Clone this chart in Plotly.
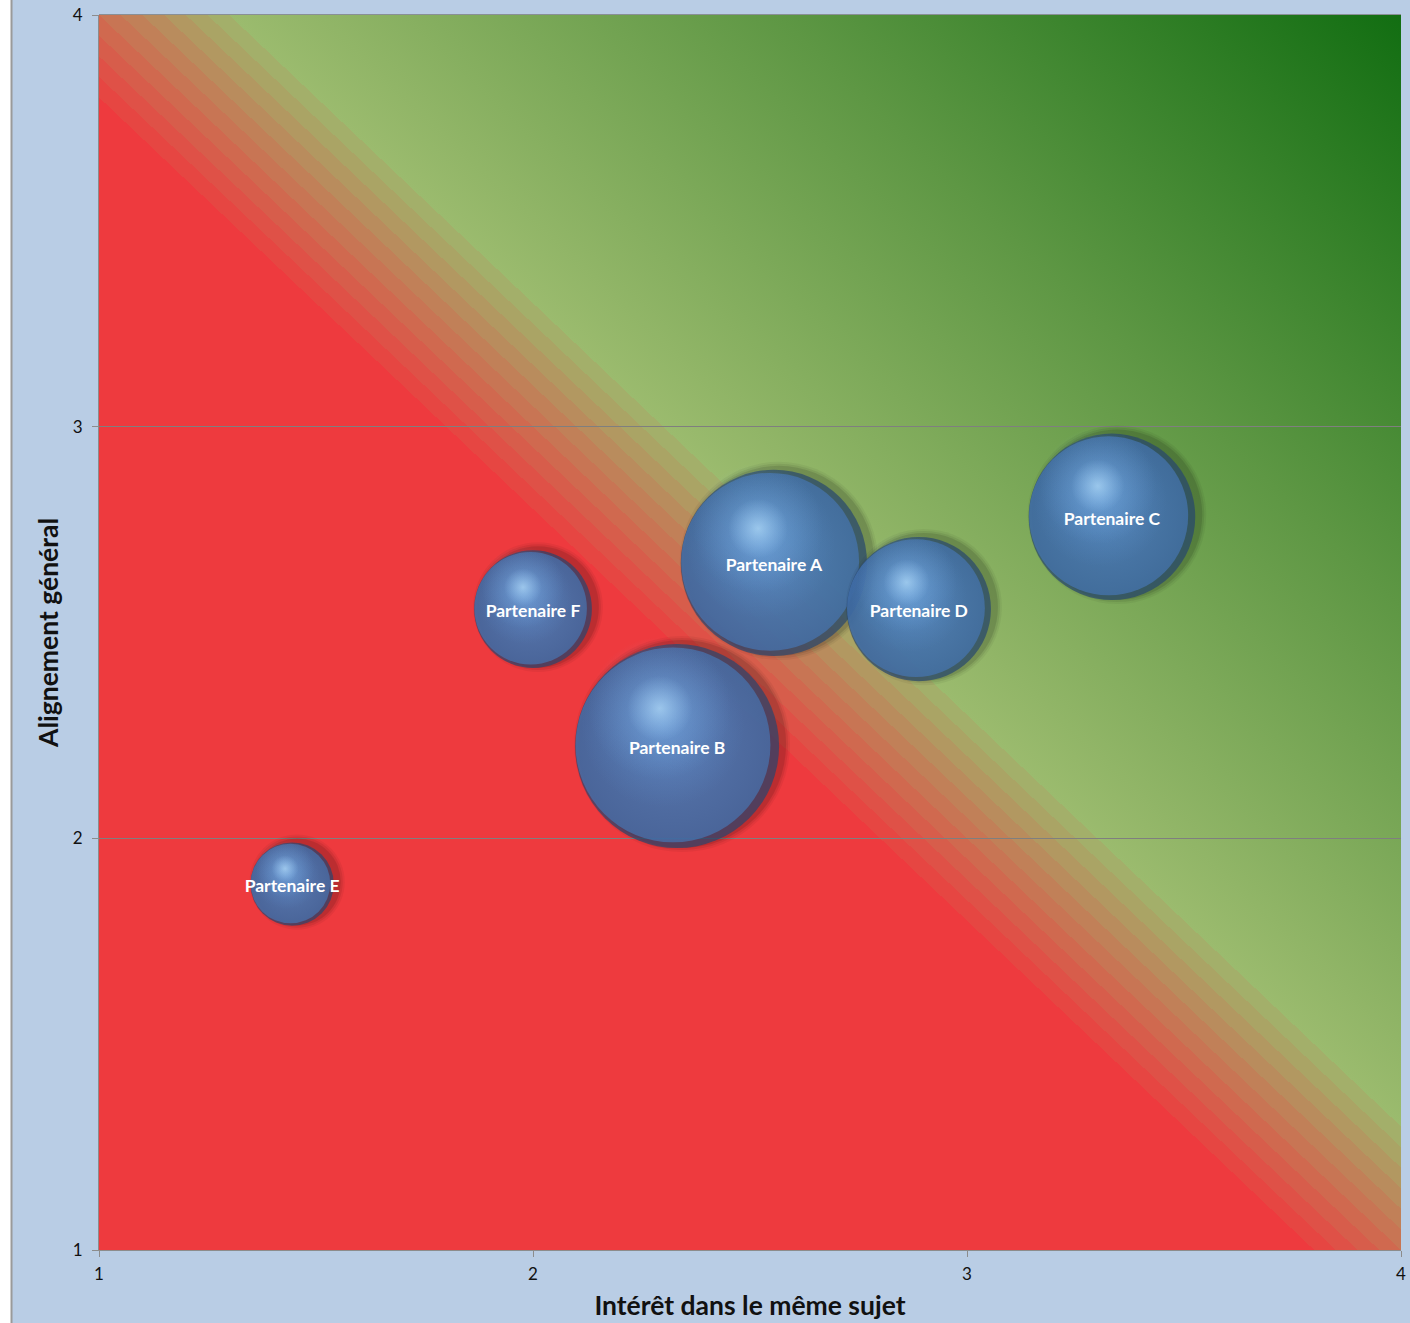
import base64
import plotly.graph_objects as go

# ---------------- data ----------------
names = ["Partenaire A", "Partenaire B", "Partenaire C", "Partenaire D", "Partenaire E", "Partenaire F"]
interet = [2.555, 2.332, 3.334, 2.889, 1.445, 2.000]      # x : Intérêt dans le même sujet
alignement = [2.669, 2.224, 2.781, 2.557, 1.889, 2.557]   # y : Alignement général
taille = [5, 6, 4, 3, 1, 2]                                # bubble size
tick_vals = [1, 2, 3, 4]
x_title = "Intérêt dans le même sujet"
y_title = "Alignement général"

# ---------------- layout geometry ----------------
W, H = 1410, 1323
ML, MR, MT, MB = 99, 9, 15, 73
PW, PH = W - ML - MR, H - MT - MB
XR, YR = [1, 4], [1, 4]
sx = PW / (XR[1] - XR[0])
sy = PH / (YR[1] - YR[0])
DMAX = 204
diam = [DMAX * (s / max(taille)) ** 0.5 for s in taille]

FONT = "Lato, 'Open Sans', sans-serif"


# ---------------- background (diagonal gradient) ----------------
def hex2rgb(h):
    h = h.lstrip("#")
    return tuple(int(h[i:i + 2], 16) for i in (0, 2, 4))


def lerp(c1, c2, f):
    return "#%02x%02x%02x" % tuple(round(a + (b - a) * f) for a, b in zip(c1, c2))


red = hex2rgb("#EE3A3E")
lgreen = hex2rgb("#9BBB6E")
stops = []
t_red_end = (4.80 - 2) / 6
t_band_end = (5.30 - 2) / 6
nstr = 10
stops.append((0.0, "#EE3A3E"))
stops.append((t_red_end, "#EE3A3E"))
for k in range(nstr):
    a = t_red_end + (t_band_end - t_red_end) * k / nstr
    b = t_red_end + (t_band_end - t_red_end) * (k + 1) / nstr
    c = lerp(red, lgreen, (k + 1) / (nstr + 1))
    stops.append((a, c))
    stops.append((b, c))
stops.append((t_band_end, "#9BBB6E"))
stops.append((0.76, "#5E9744"))
stops.append((1.0, "#126E12"))
stop_xml = "".join('<stop offset="%.5f" stop-color="%s"/>' % (o, c) for o, c in stops)
svg = ('<svg xmlns="http://www.w3.org/2000/svg" width="%d" height="%d" viewBox="0 0 %d %d" '
       'preserveAspectRatio="none"><defs><linearGradient id="g" x1="0" y1="1" x2="1" y2="0">%s'
       '</linearGradient></defs><rect x="0" y="0" width="%d" height="%d" fill="url(#g)"/></svg>'
       % (PW, PH, PW, PH, stop_xml, PW, PH))
bg_src = "data:image/svg+xml;base64," + base64.b64encode(svg.encode()).decode()

fig = go.Figure()


def add_layer(i, dxpx, dypx, size, color, gcolor=None):
    marker = dict(size=[size], color=color, line=dict(width=0))
    if gcolor is not None:
        marker["gradient"] = dict(type="radial", color=gcolor)
    fig.add_trace(go.Scatter(
        x=[interet[i] + dxpx / sx], y=[alignement[i] - dypx / sy],
        mode="markers", marker=marker, hoverinfo="skip", showlegend=False))


order = sorted(range(len(taille)), key=lambda i: -taille[i])
for i in order:
    d = diam[i]
    # soft shadow (towards the right)
    for extra, op in [(12, 0.07), (8, 0.10), (4, 0.15)]:
        add_layer(i, 5, -2, d + extra, "rgba(0,0,0,%.2f)" % op)
    # sphere body: dark rim + body gradient
    add_layer(i, 0, 0, d, "#27466f")
    add_layer(i, -0.02 * d, -0.006 * d, d * 0.955, "#4676b4", "#5a8fd0")
    # light on the upper-left half
    add_layer(i, -0.07 * d, -0.10 * d, d * 0.80, "rgba(95,150,215,0)", "rgba(100,158,222,0.6)")
    # highlight glow and spot
    add_layer(i, -0.085 * d, -0.185 * d, d * 0.70, "rgba(125,180,238,0)", "rgba(150,203,252,0.55)")
    add_layer(i, -0.085 * d, -0.185 * d, d * 0.32, "rgba(165,212,255,0)", "rgba(190,230,255,0.8)")

# labels (nudged to sit on the visual centre of the text)
label_y = [y - 4 / sy for y in alignement]
fig.add_trace(go.Scatter(
    x=interet, y=label_y, mode="text", text=names,
    textposition="middle center",
    textfont=dict(family=FONT, size=17.5, color="white", weight="bold"),
    hoverinfo="skip", showlegend=False))

fig.update_layout(
    width=W, height=H,
    margin=dict(l=ML, r=MR, t=MT, b=MB, autoexpand=False),
    paper_bgcolor="#B9CDE5",
    plot_bgcolor="#B9CDE5",
    showlegend=False,
    images=[dict(source=bg_src, xref="x", yref="y", x=XR[0], y=YR[1],
                 sizex=XR[1] - XR[0], sizey=YR[1] - YR[0], sizing="stretch",
                 layer="below")],
    xaxis=dict(range=XR, tickvals=tick_vals, ticks="outside", ticklen=6,
               tickcolor="#8c8c8c", showgrid=False, zeroline=False, automargin=False,
               showline=True, linecolor="#8c8c8c", linewidth=1,
               ticklabelstandoff=3,
               tickfont=dict(family=FONT, size=17, color="#111"),
               title=dict(text=x_title, standoff=13,
                          font=dict(family=FONT, size=26.5, color="#111", weight="bold"))),
    yaxis=dict(range=YR, tickvals=tick_vals, ticks="outside", ticklen=6,
               tickcolor="#8c8c8c", showgrid=True, gridcolor="#7f7f7f", gridwidth=1.3,
               zeroline=False, showline=True, linecolor="#8c8c8c", linewidth=1,
               automargin=False, ticklabelstandoff=6,
               tickfont=dict(family=FONT, size=17, color="#111"),
               title=dict(text=y_title, standoff=6,
                          font=dict(family=FONT, size=26.5, color="#111", weight="bold"))),
    shapes=[
        dict(type="rect", xref="paper", yref="paper", x0=-ML / PW, x1=-(ML - 11) / PW,
             y0=-MB / PH, y1=1 + MT / PH, fillcolor="white", line=dict(width=0), layer="below"),
        dict(type="line", xref="paper", yref="paper", x0=-(ML - 11.5) / PW, x1=-(ML - 11.5) / PW,
             y0=-MB / PH, y1=1 + MT / PH, line=dict(color="#9a9a9a", width=2), layer="below"),
        dict(type="line", xref="paper", yref="paper", x0=0, x1=1, y0=1, y1=1,
             line=dict(color="#7a7a7a", width=1.5), layer="below"),
    ],
)

fig.write_html("out.html", config={"displayModeBar": False},
               post_script="document.body.style.margin='0px';document.body.style.overflow='hidden';")
